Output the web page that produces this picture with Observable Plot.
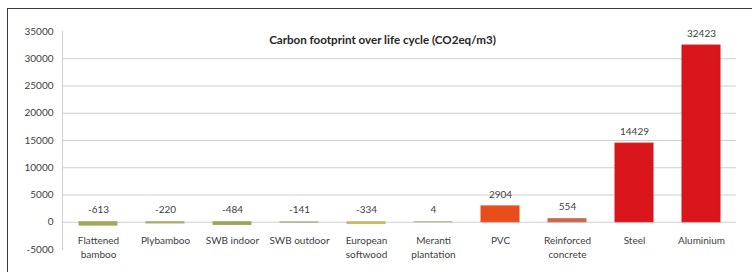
<!DOCTYPE html>
<html>
<head>
<meta charset="utf-8">
<script src="https://cdn.jsdelivr.net/npm/d3@7"></script>
<script src="https://cdn.jsdelivr.net/npm/@observablehq/plot@0.6"></script>
<style>
  html, body { margin: 0; padding: 0; background: #ffffff; }
  #wrap { position: relative; width: 752px; height: 272px; overflow: hidden; }
  #border { position: absolute; left: 7px; top: 8px; width: 760px; height: 280px;
            border-top: 1.5px solid #3a3a3a; border-left: 1.5px solid #3a3a3a; pointer-events: none; }
  svg { font-family: Lato, "Open Sans", sans-serif; }
</style>
</head>
<body>
<div id="wrap"><div id="border"></div></div>
<script>
const title = "Carbon footprint over life cycle (CO2eq/m3)";
const categories = ["Flattened\nbamboo", "Plybamboo", "SWB indoor", "SWB outdoor", "European\nsoftwood",
                    "Meranti\nplantation", "PVC", "Reinforced\nconcrete", "Steel", "Aluminium"];
const values = [-613, -220, -484, -141, -334, 4, 2904, 554, 14429, 32423];
const yTicks = [-5000, 0, 5000, 10000, 15000, 20000, 25000, 30000, 35000];
const gridValues = [0, 5000, 10000, 15000, 20000, 25000, 30000];
const barColors = ["#a2a75c", "#a8ab6c", "#9ca45c", "#b7b6a2", "#c6b86c",
                   "#b3b08e", "#ea4d1c", "#c9674a", "#d8161b", "#d8161b"];

const data = categories.map((c, i) => ({cat: c, value: values[i]}));
const textColor = "#404040";

const chart = Plot.plot({
  width: 752,
  height: 272,
  marginLeft: 62,
  marginRight: 16,
  marginTop: 31,
  marginBottom: 23,
  style: {background: "transparent", fontFamily: "Lato, 'Open Sans', sans-serif"},
  x: {domain: categories, paddingInner: 0.44, paddingOuter: 0.22, axis: null},
  y: {domain: [-5000, 35000], ticks: yTicks, tickFormat: d => String(d), tickSize: 0, tickPadding: 9, label: null},
  color: {domain: categories, range: barColors},
  marks: [
    Plot.ruleY(gridValues, {stroke: "#cfcfcf", strokeWidth: 1}),
    Plot.frame({anchor: "left", stroke: "#cfcfcf", strokeWidth: 1}),
    Plot.axisY({ticks: yTicks, tickFormat: d => String(d), tickSize: 0, tickPadding: 9, fontSize: 10, fill: textColor, label: null}),
    Plot.barY(data, {x: "cat", y1: 0, y2: "value", fill: "cat", stroke: "cat", strokeWidth: 1}),
    Plot.text(data, {x: "cat", y: d => Math.max(d.value, 0), text: d => String(d.value), dy: -12, fontSize: 10, fill: textColor}),
    Plot.text(data, {x: "cat", y: () => 0, text: "cat", lineAnchor: "top", dy: 11, lineHeight: 1.45, fontSize: 10, fill: textColor}),
    Plot.text([title], {frameAnchor: "top", dx: -17, dy: 4, fontSize: 11.6, fontWeight: 700, fill: "#262626"})
  ]
});
document.getElementById("wrap").prepend(chart);
</script>
</body>
</html>
